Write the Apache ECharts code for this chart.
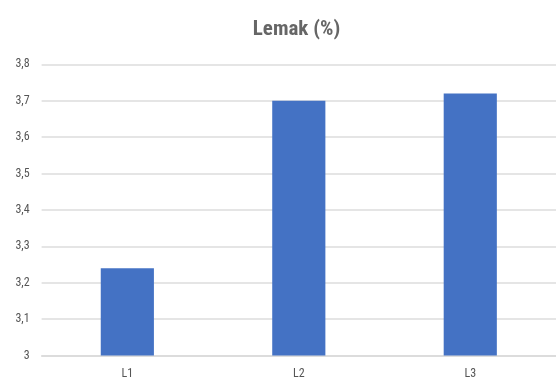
<!DOCTYPE html>
<html>
<head>
<meta charset="utf-8">
<script src="https://cdn.jsdelivr.net/npm/echarts@6/dist/echarts.min.js"></script>
<style>
  html, body { margin: 0; padding: 0; background: #ffffff; }
  #chart { width: 556px; height: 381px; }
</style>
</head>
<body>
<div id="chart"></div>
<script>
// Fat content per sample
const categories = ['L1', 'L2', 'L3'];
const lemakValues = [3.24, 3.70, 3.72];
const yMin = 3;
const yMax = 3.8;
const yStep = 0.1;

const FONT = "'Roboto Condensed', 'Arial Narrow', Roboto, sans-serif";

const chart = echarts.init(document.getElementById('chart'), null, { renderer: 'canvas' });

chart.setOption({
  animation: false,
  backgroundColor: '#ffffff',
  title: {
    text: 'Lemak (%)',
    left: 291.5,
    top: 14,
    textAlign: 'center',
    textStyle: {
      fontFamily: FONT,
      fontSize: 21,
      fontWeight: 'bold',
      color: '#666666'
    }
  },
  grid: {
    left: 41.6,
    right: -10,
    top: 64.3,
    bottom: 25.5,
    containLabel: false
  },
  xAxis: {
    type: 'category',
    data: categories,
    axisTick: { show: false },
    axisLine: { lineStyle: { color: '#d9d9d9', width: 1.5 } },
    axisLabel: {
      fontFamily: FONT,
      fontSize: 12,
      color: '#555555',
      margin: 12
    }
  },
  yAxis: {
    type: 'value',
    min: yMin,
    max: yMax,
    interval: yStep,
    axisLine: { show: false },
    axisTick: { show: false },
    splitLine: { lineStyle: { color: '#dcdcdc', width: 1.5 } },
    axisLabel: {
      fontFamily: FONT,
      fontSize: 12,
      color: '#555555',
      margin: 12,
      formatter: function (v) {
        return String(Math.round(v * 10) / 10).replace('.', ',');
      }
    }
  },
  series: [{
    type: 'bar',
    data: lemakValues,
    barWidth: '31%',
    itemStyle: { color: '#4472c4' }
  }]
});
</script>
</body>
</html>
